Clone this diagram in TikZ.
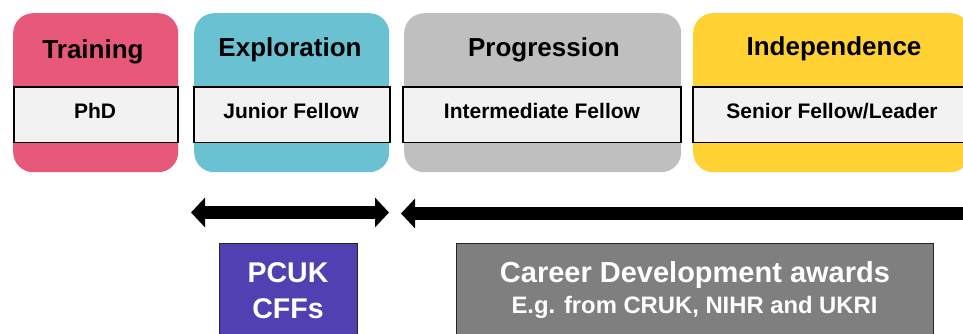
\documentclass[tikz,border=0pt]{standalone}
\usepackage{fontspec}
\setmainfont{Liberation Sans}
\usetikzlibrary{arrows.meta}
\definecolor{cpink}{HTML}{E8587B}
\definecolor{cteal}{HTML}{6AC1D1}
\definecolor{cgray}{HTML}{BFBFBF}
\definecolor{cyellow}{HTML}{FFD133}
\definecolor{cband}{HTML}{F2F2F2}
\definecolor{cpurple}{HTML}{5040B1}
\definecolor{cdark}{HTML}{7F7F7F}
\tikzset{
  stage/.style={rounded corners=20pt, draw=none, inner sep=0pt, anchor=north west},
  band/.style={fill=cband, draw=black, line width=1.6pt, inner sep=0pt, anchor=north west},
  title/.style={anchor=base, inner sep=0pt, font=\bfseries\fontsize{26}{30}\selectfont},
  role/.style={anchor=base, inner sep=0pt, font=\bfseries\fontsize{21}{25}\selectfont},
  fund/.style={draw=black!85, line width=0.8pt, inner sep=0pt, anchor=north west},
  bigarrow/.style={line width=13pt, {Triangle[length=14pt,width=29pt]}-{Triangle[length=14pt,width=29pt]}}
}
\begin{document}
\begin{tikzpicture}[x=1pt,y=-1pt]
\useasboundingbox (0,0) rectangle (963,334);
\clip (0,0) rectangle (963,334);
% stage boxes
\node[stage, fill=cpink,   minimum width=165pt, minimum height=159pt] (train) at (13,13) {};
\node[stage, fill=cteal,   minimum width=195pt, minimum height=159pt] (explo) at (194,13) {};
\node[stage, fill=cgray,   minimum width=277pt, minimum height=159pt] (progr) at (404,13) {};
\node[stage, fill=cyellow, minimum width=277pt, minimum height=159pt] (indep) at (693,13) {};
% bands
\node[band, minimum width=164pt, minimum height=55pt] (b1) at (13,86.5) {};
\node[band, minimum width=196pt, minimum height=55pt] (b2) at (193,86.5) {};
\node[band, minimum width=278pt, minimum height=55pt] (b3) at (402,86.5) {};
\node[band, minimum width=290pt, minimum height=55pt] (b4) at (692,86.5) {};
% titles
\node[title] (t1) at (93,58.5) {Training};
\node[title] (t2) at (290,57) {Exploration};
\node[title] (t3) at (544,57) {Progression};
\node[title] (t4) at (834,55.5) {Independence};
% roles
\node[role] (r1) at (95,118) {PhD};
\node[role] (r2) at (291,118) {Junior Fellow};
\node[role] (r3) at (542,118) {Intermediate Fellow};
\node[role] (r4) at (832,118) {Senior Fellow/Leader};
% arrows
\coordinate (a1l) at (191,212.5);
\coordinate (a1r) at (389,212.5);
\coordinate (a2l) at (401,213.5);
\coordinate (a2r) at (977,213.5);
\draw[bigarrow] (a1l) -- (a1r);
\draw[bigarrow] (a2l) -- (a2r);
% funding boxes
\node[fund, fill=cpurple, minimum width=138pt, minimum height=110pt] (pcuk) at (219,243) {};
\node[fund, fill=cdark, minimum width=477pt, minimum height=110pt] (cda) at (456,243) {};
\node[anchor=base, inner sep=0pt, text=white, font=\bfseries\fontsize{28.5}{32}\selectfont] (p1) at (288,282) {PCUK};
\node[anchor=base, inner sep=0pt, text=white, font=\bfseries\fontsize{28.5}{32}\selectfont] (p2) at (288,318) {CFFs};
\node[anchor=base, inner sep=0pt, text=white, font=\bfseries\fontsize{29}{33}\selectfont] (c1) at (695,282) {Career Development awards};
\node[anchor=base, inner sep=0pt, text=white, font=\bfseries\fontsize{23.8}{28}\selectfont] (c2) at (694.5,313) {E.g. from CRUK, NIHR and UKRI};
\end{tikzpicture}
\end{document}
